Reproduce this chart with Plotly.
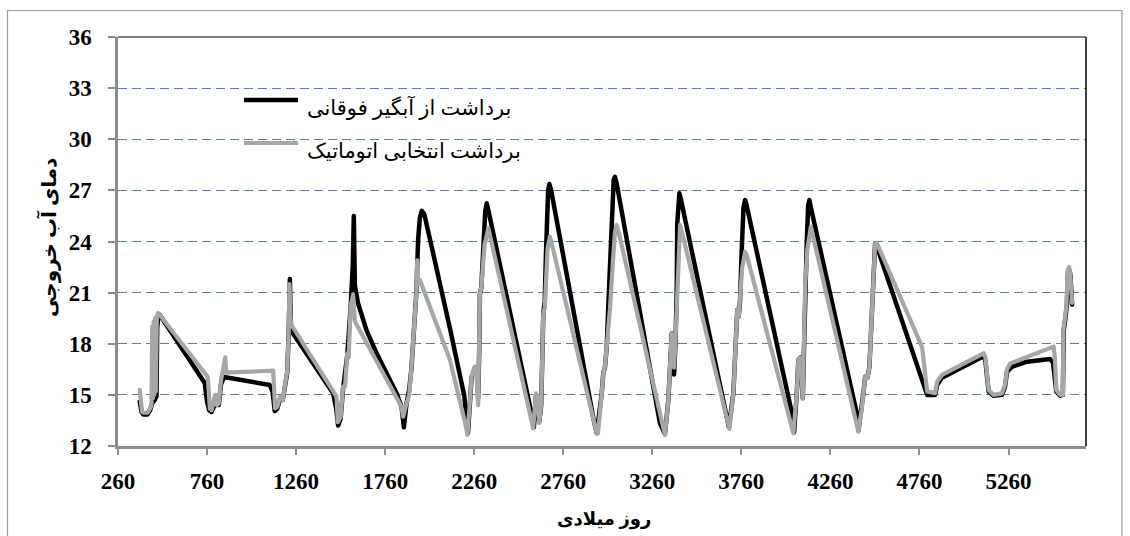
import plotly.graph_objects as go

# Outlet water temperature over the simulation days, two withdrawal strategies
upper_intake_day = [
    382, 392, 402, 425, 440, 452, 466, 476, 480, 486, 494,
    747, 760, 772, 785, 798, 806, 815, 826, 838, 855,
    1112, 1128, 1140, 1155, 1170, 1185, 1200, 1210, 1218, 1225, 1230, 1236,
    1468, 1485, 1496, 1510, 1524, 1547, 1566, 1578, 1584, 1590, 1608, 1655, 1712, 1768, 1824, 1852, 1865,
    1880, 1895, 1908, 1917, 1935, 1945, 1955, 1966, 1980, 2124, 2205, 2218, 2225,
    2245, 2264, 2275, 2282, 2288, 2292, 2300, 2312, 2322, 2330, 2340, 2582, 2595,
    2607, 2615, 2625, 2636, 2648, 2656, 2662, 2667, 2675, 2682, 2692, 2929, 2948,
    2976, 2985, 2994, 3004, 3012, 3022, 3035, 3043, 3050, 3060, 3303, 3331,
    3350, 3359, 3369, 3375, 3382, 3390, 3397, 3400, 3406, 3412, 3420, 3678, 3690,
    3715, 3730, 3737, 3745, 3753, 3762, 3772, 3781, 3790, 4052, 4056,
    4071, 4080, 4092, 4105, 4110, 4118, 4127, 4135, 4142, 4150, 4408, 4417,
    4436, 4445, 4455, 4468, 4479, 4498, 4511, 4521, 4760, 4785, 4803, 4848, 4860, 4886,
    5120, 5130, 5148, 5176, 5223, 5241, 5251, 5280, 5364, 5494, 5510, 5528, 5550,
    5565, 5570, 5578, 5588, 5594, 5602, 5608, 5612, 5617,
]
upper_intake_temp = [
    14.6, 14.0, 13.85, 13.85, 14.1, 14.5, 14.7, 14.9, 18.9, 19.6, 19.7,
    15.7, 14.6, 14.1, 14.0, 14.3, 14.9, 14.4, 14.4, 15.6, 16.05,
    15.58, 15.2, 14.05, 14.2, 14.8, 14.7, 15.9, 16.3, 18.5, 21.8, 19.2, 18.7,
    15.1, 14.2, 13.2, 13.6, 15.4, 17.3, 20.1, 22.5, 25.5, 21.4, 20.37, 18.8, 17.44, 16.27, 15.09, 14.3, 13.1,
    14.5, 15.3, 16.6, 18.0, 21.0, 24.1, 25.4, 25.8, 25.6, 18.9, 14.9, 13.2, 12.75,
    16.0, 16.6, 16.5, 14.8, 17.5, 20.9, 21.3, 24.0, 25.8, 26.24, 25.8, 13.9, 13.1,
    15.0, 14.9, 13.4, 14.4, 19.8, 20.5, 23.0, 25.1, 27.0, 27.37, 27.0, 13.63, 12.75,
    15.1, 16.3, 16.6, 17.8, 20.0, 22.9, 26.5, 27.6, 27.8, 27.4, 13.33, 12.7,
    14.7, 16.6, 18.6, 17.0, 16.2, 18.0, 21.0, 25.07, 26.5, 26.83, 26.5, 13.92, 13.1,
    15.09, 18.6, 20.0, 19.6, 20.6, 23.5, 26.0, 26.43, 26.1, 13.53, 12.8,
    15.09, 17.05, 17.2, 14.8, 17.0, 21.35, 23.89, 26.1, 26.43, 26.0, 13.92, 12.9,
    14.2, 15.09, 16.07, 16.0, 16.65, 20.96, 23.89, 23.7, 16.3, 15.4, 15.0, 15.0, 15.6, 16.0,
    17.27, 17.0, 15.2, 14.95, 15.0, 15.5, 16.35, 16.65, 16.95, 17.1, 16.9, 15.2, 14.95,
    15.0, 18.8, 19.4, 20.3, 22.2, 22.3, 22.0, 20.6, 20.3,
]

auto_select_day = [
    382, 388, 395, 405, 425, 440, 448, 452, 456, 460, 464, 468, 472, 478, 486,
    764, 770, 776, 785, 796, 806, 815, 826, 838, 852, 862, 868,
    1131, 1136, 1142, 1155, 1170, 1185, 1200, 1210, 1218, 1223, 1228, 1234,
    1487, 1494, 1510, 1524, 1535, 1547, 1555, 1566, 1580, 1590, 1852, 1861,
    1880, 1895, 1908, 1917, 1927, 1935, 1940, 1946, 1955, 2124, 2210, 2222,
    2232, 2245, 2264, 2272, 2282, 2288, 2292, 2300, 2318, 2339, 2350, 2591,
    2607, 2615, 2625, 2636, 2648, 2656, 2662, 2672, 2685, 2695, 2948, 2955,
    2976, 2985, 2994, 3004, 3012, 3022, 3040, 3050, 3060, 3070, 3331,
    3350, 3359, 3369, 3375, 3382, 3390, 3397, 3405, 3416, 3425, 3687, 3693,
    3715, 3730, 3737, 3745, 3753, 3765, 3781, 3790, 4052,
    4071, 4080, 4092, 4105, 4110, 4118, 4130, 4150, 4158, 4417,
    4436, 4445, 4455, 4468, 4479, 4498, 4511, 4521, 4775, 4790, 4803, 4848, 4860, 4886,
    5120, 5130, 5148, 5176, 5223, 5241, 5251, 5270, 5513, 5520, 5528, 5550,
    5565, 5568, 5575, 5585, 5592, 5600, 5606, 5612, 5617,
]
auto_select_temp = [
    15.3, 14.4, 14.0, 13.95, 13.95, 14.2, 14.4, 19.0, 14.8, 19.3, 15.0, 19.5, 15.2, 19.6, 19.8,
    16.05, 15.0, 14.2, 14.1, 14.5, 15.0, 14.4, 14.5, 15.8, 16.5, 17.2, 16.3,
    16.42, 15.5, 14.2, 14.3, 14.9, 14.7, 16.0, 16.4, 18.5, 21.5, 19.5, 19.1,
    14.9, 13.4, 13.7, 15.5, 15.5, 17.44, 17.2, 20.17, 20.9, 19.3, 14.3, 13.72,
    14.5, 15.0, 16.65, 18.2, 20.17, 21.0, 22.9, 21.5, 21.74, 17.05, 13.3, 12.65,
    14.0, 16.07, 16.65, 16.4, 14.4, 17.4, 20.96, 21.3, 23.8, 24.77, 24.3, 13.04,
    15.09, 14.9, 13.35, 14.5, 19.78, 20.1, 21.5, 23.6, 24.28, 23.9, 12.75, 12.75,
    15.09, 16.27, 16.65, 17.83, 18.2, 20.0, 23.0, 24.5, 24.97, 24.6, 12.65,
    14.7, 16.65, 18.6, 17.2, 16.6, 18.2, 20.0, 23.0, 24.97, 24.6, 13.13, 13.0,
    15.09, 18.6, 20.0, 19.6, 20.57, 22.5, 23.4, 23.2, 12.75,
    15.09, 17.05, 17.2, 14.8, 17.05, 21.35, 23.5, 24.87, 24.5, 12.84,
    14.2, 15.09, 16.07, 16.0, 16.65, 20.96, 23.89, 23.9, 17.8, 16.4, 15.2, 15.1, 15.8, 16.17,
    17.44, 17.2, 15.29, 15.0, 15.09, 15.6, 16.5, 16.85, 17.83, 17.2, 15.29, 15.0,
    15.0, 18.8, 19.4, 20.2, 22.33, 22.5, 22.2, 20.5, 20.4,
]

series_names = ["برداشت از آبگیر فوقانی", "برداشت انتخابی اتوماتیک"]
x_title = "روز میلادی"
y_title = "دمای آب خروجی"
x_ticks = [260, 760, 1260, 1760, 2260, 2760, 3260, 3760, 4260, 4760, 5260]
y_ticks = [12, 15, 18, 21, 24, 27, 30, 33, 36]

W, H = 1130, 536
L, R, T, B = 118, 44, 37, 90
pw, ph = W - L - R, H - T - B


def px(xp):
    return (xp - L) / pw


def py(yp):
    return (H - B - yp) / ph


BLACK = "#000000"
GREY = "#A6A6A6"
AXIS = "#8C8C8C"
GRID = "#4A7EBB"

fig = go.Figure()
fig.add_trace(go.Scatter(x=upper_intake_day, y=upper_intake_temp, mode="lines",
                         name=series_names[0], line=dict(color=BLACK, width=4.5),
                         showlegend=False))
fig.add_trace(go.Scatter(x=auto_select_day, y=auto_select_temp, mode="lines",
                         name=series_names[1], line=dict(color=GREY, width=4.2),
                         showlegend=False))

tick_font = dict(family="Liberation Serif, Times New Roman, serif", size=23,
                 color="#000000", weight="bold")

fig.update_xaxes(range=[260, 5695], tickvals=x_ticks, ticktext=[str(v) for v in x_ticks],
                 showgrid=False, zeroline=False, showline=True, linecolor=AXIS,
                 linewidth=2.5, ticks="outside", ticklen=6, tickwidth=1.5, tickcolor=AXIS,
                 tickfont=tick_font, ticklabelstandoff=7)
fig.update_yaxes(range=[12, 36], tickvals=y_ticks, ticktext=[str(v) for v in y_ticks],
                 showgrid=True, gridcolor=GRID, gridwidth=1.3, griddash="9px,5px",
                 zeroline=False, showline=True, linecolor=AXIS, linewidth=2.5,
                 ticks="outside", ticklen=7, tickwidth=1.5, tickcolor=AXIS,
                 tickfont=tick_font, ticklabelstandoff=12)

shapes = [
    # plot-area frame on the top and right sides
    dict(type="line", xref="paper", yref="paper", x0=0, x1=1, y0=1, y1=1,
         line=dict(color="#000000", width=1.2), layer="above"),
    dict(type="line", xref="paper", yref="paper", x0=1, x1=1, y0=0, y1=1,
         line=dict(color="#000000", width=1.5), layer="above"),
    # chart-area frame
    dict(type="rect", xref="paper", yref="paper", x0=px(7.5), x1=px(1122),
         y0=py(560), y1=py(10.5), line=dict(color="#9A9A9A", width=1.2), layer="below"),
    # legend keys
    dict(type="line", xref="paper", yref="paper", x0=px(244), x1=px(298),
         y0=py(100), y1=py(100), line=dict(color=BLACK, width=4.5)),
    dict(type="line", xref="paper", yref="paper", x0=px(244), x1=px(298),
         y0=py(143), y1=py(143), line=dict(color=GREY, width=4.2)),
]

legend_font = dict(family="Liberation Serif, DejaVu Sans, serif", size=21, color="#000000")
x_title_font = dict(family="Liberation Serif, DejaVu Sans, serif", size=18, color="#000000",
                    weight="bold")
y_title_font = dict(family="Liberation Serif, DejaVu Sans, serif", size=20, color="#000000",
                    weight="bold")
annotations = [
    dict(text=series_names[0], xref="paper", yref="paper", x=px(305), y=py(108),
         xanchor="left", yanchor="middle", showarrow=False, font=legend_font),
    dict(text=series_names[1], xref="paper", yref="paper", x=px(305), y=py(151),
         xanchor="left", yanchor="middle", showarrow=False, font=legend_font),
    dict(text=x_title, xref="paper", yref="paper", x=px(604), y=py(519),
         xanchor="center", yanchor="middle", showarrow=False, font=x_title_font),
    dict(text=y_title, xref="paper", yref="paper", x=px(48), y=py(238),
         xanchor="center", yanchor="middle", showarrow=False, font=y_title_font,
         textangle=-90),
]

fig.update_layout(width=W, height=H, margin=dict(l=L, r=R, t=T, b=B),
                  paper_bgcolor="#FFFFFF", plot_bgcolor="#FFFFFF",
                  shapes=shapes, annotations=annotations, showlegend=False)

fig.write_html("out.html", include_plotlyjs=True,
               post_script="document.querySelectorAll('.scatterlayer path.js-line')"
                           ".forEach(function(p){p.style.strokeLinejoin='round';"
                           "p.style.strokeLinecap='round';});")
